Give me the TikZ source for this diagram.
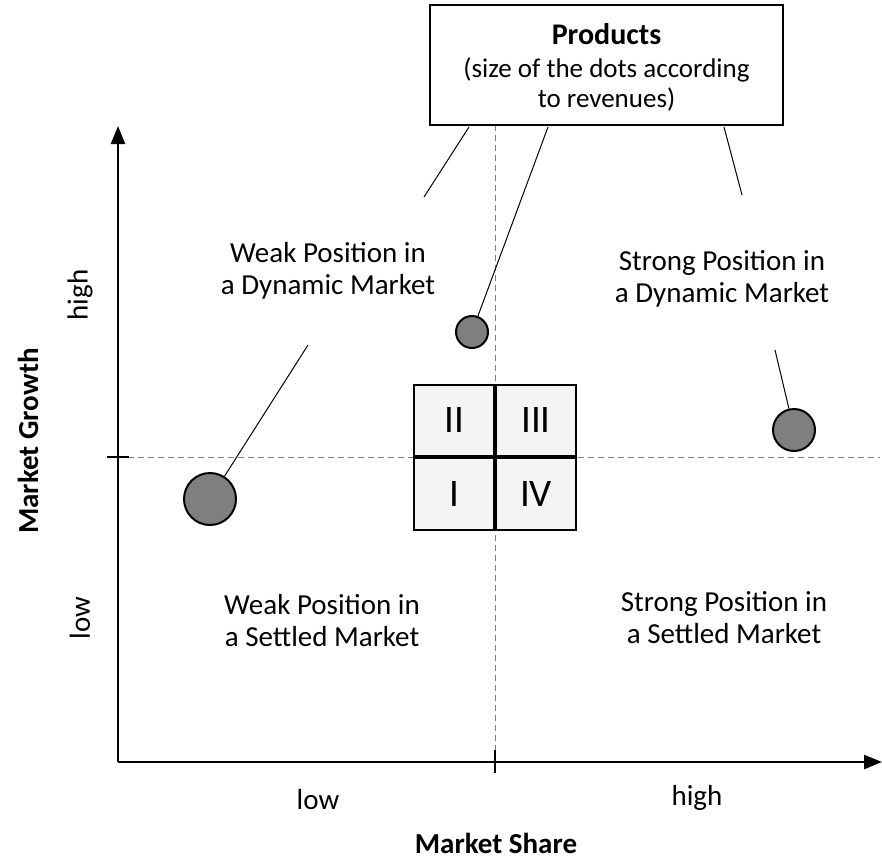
\documentclass[tikz,border=0pt]{standalone}
\usepackage{fontspec}
\setmainfont{Carlito}
\usetikzlibrary{arrows.meta}
\definecolor{dotgray}{HTML}{7F7F7F}
\definecolor{cellgray}{HTML}{F4F4F4}
\tikzset{
  lbl/.style={align=center, font=\fontsize{29}{32}\selectfont, inner sep=0pt},
  axislbl/.style={font=\fontsize{29}{32}\selectfont, inner sep=0pt},
  axistitle/.style={font=\bfseries\fontsize{29}{32}\selectfont, inner sep=0pt},
  dot/.style={circle, draw=black, line width=2pt, fill=dotgray, inner sep=0pt},
  cell/.style={draw=black, line width=2pt, fill=cellgray, minimum width=80pt, minimum height=71.5pt, inner sep=0pt, font=\fontsize{39}{39}\selectfont},
  guide/.style={dashed, draw=gray, line width=0.8pt, dash pattern=on 6pt off 4pt},
  pointer/.style={draw=black, line width=1pt},
  axis/.style={draw=black, line width=2.5pt, -{Triangle[length=18pt,width=14pt]}}
}
\begin{document}
\begin{tikzpicture}[x=1pt,y=-1pt]
\useasboundingbox (0,0) rectangle (882,859);
% guides
\coordinate (vtop) at (495,125);
\coordinate (vbot) at (495,750);
\coordinate (hl) at (128,457);
\coordinate (hr) at (880,457);
\draw[guide] (vtop) -- (vbot);
\draw[guide] (hl) -- (hr);
% axes
\coordinate (origin) at (118,762);
\coordinate (ytip) at (118,126);
\coordinate (xtip) at (882,762);
\draw[axis] (origin) -- (ytip);
\draw[axis] (origin) -- (xtip);
\coordinate (yt1) at (107,457);
\coordinate (yt2) at (129,457);
\draw[line width=1.5pt] (yt1) -- (yt2);
\coordinate (xt1) at (495,750);
\coordinate (xt2) at (495,773);
\draw[line width=1.5pt] (xt1) -- (xt2);
% grid
\node[cell, anchor=south east] (c2) at (495,457) {II};
\node[cell, anchor=south west] (c3) at (495,457) {III};
\node[cell, anchor=north east] (c1) at (495,457) {I};
\node[cell, anchor=north west] (c4) at (495,457) {IV};
% products box
\node[draw=black, line width=2pt, fill=white, minimum width=353pt, minimum height=120pt, inner sep=0pt] (prod) at (606.5,65) {};
\node[font=\bfseries\fontsize{30}{32}\selectfont, inner sep=0pt] (ptitle) at (606.5,34) {Products};
\node[align=center, font=\fontsize{27}{30}\selectfont, inner sep=0pt] (psub) at (606.5,85) {(size of the dots according\\to revenues)};
% dots
\node[dot, minimum size=52pt] (d1) at (210,499) {};
\node[dot, minimum size=32pt] (d2) at (472,332) {};
\node[dot, minimum size=42pt] (d3) at (794,430) {};
% pointers
\coordinate (p1a) at (469,127);
\coordinate (p1b) at (424,197);
\draw[pointer] (p1a) -- (p1b);
\coordinate (p2a) at (548,127);
\draw[pointer] (p2a) -- (d2);
\coordinate (p3a) at (724,127);
\coordinate (p3b) at (742,195);
\draw[pointer] (p3a) -- (p3b);
\coordinate (p4a) at (308,345);
\draw[pointer] (p4a) -- (d1);
\coordinate (p5a) at (775,350);
\draw[pointer] (p5a) -- (d3);
% quadrant labels
\node[lbl] (q1) at (328,271) {Weak Position in\\a Dynamic Market};
\node[lbl] (q2) at (722,279) {Strong Position in\\a Dynamic Market};
\node[lbl] (q3) at (322,621) {Weak Position in\\a Settled Market};
\node[lbl] (q4) at (724,618) {Strong Position in\\a Settled Market};
% axis labels
\node[axislbl, rotate=90] (yhigh) at (80,295) {high};
\node[axislbl, rotate=90] (ylow) at (80,618) {low};
\node[axistitle, rotate=90] (ytitle) at (28,441) {Market Growth};
\node[axislbl] (xlow) at (318,800) {low};
\node[axislbl] (xhigh) at (697,798) {high};
\node[axistitle] (xtitle) at (496,843) {Market Share};
\end{tikzpicture}
\end{document}
